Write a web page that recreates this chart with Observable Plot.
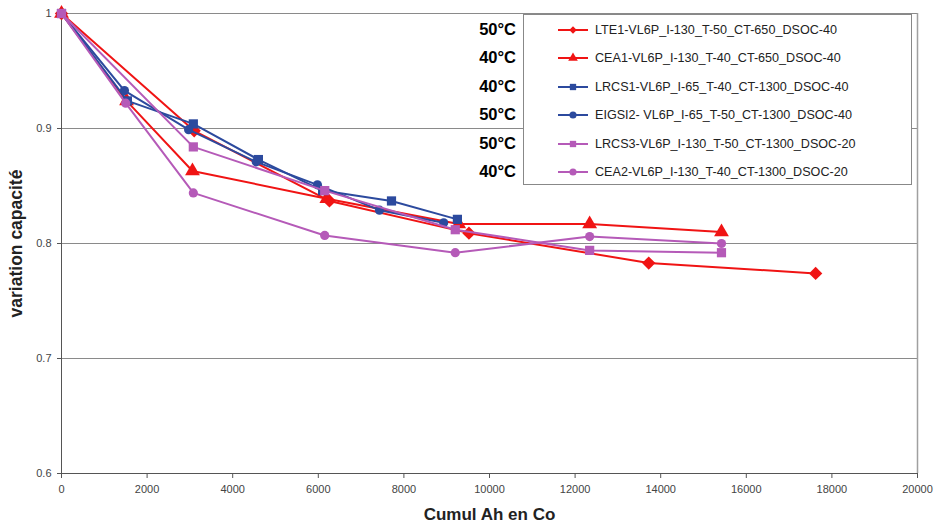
<!DOCTYPE html>
<html>
<head>
<meta charset="utf-8">
<script src="https://cdn.jsdelivr.net/npm/d3@7"></script>
<script src="https://cdn.jsdelivr.net/npm/@observablehq/plot@0.6"></script>
<style>
  html, body { margin: 0; padding: 0; background: #fff; }
  #wrap { position: relative; width: 943px; height: 527px; font-family: "Liberation Sans", Arial, sans-serif; }
  #legend { position: absolute; left: 523px; top: 14px; width: 389px; height: 171px; border: 1px solid #888; background: #fff; box-sizing: border-box; }
  .row { position: absolute; left: 0; height: 20px; display: flex; align-items: center; }
  .row svg { margin-left: 34px; }
  .row span { margin-left: 7px; font-size: 12.6px; color: #222; white-space: nowrap; }
  .temp { position: absolute; width: 70px; text-align: right; left: 446px; font-weight: bold; font-size: 16.5px; line-height: 18px; color: #000; }
</style>
</head>
<body>
<div id="wrap"></div>
<script>
// ---- data ----
const seriesNames = [
  "LTE1-VL6P_I-130_T-50_CT-650_DSOC-40",
  "CEA1-VL6P_I-130_T-40_CT-650_DSOC-40",
  "LRCS1-VL6P_I-65_T-40_CT-1300_DSOC-40",
  "EIGSI2- VL6P_I-65_T-50_CT-1300_DSOC-40",
  "LRCS3-VL6P_I-130_T-50_CT-1300_DSOC-20",
  "CEA2-VL6P_I-130_T-40_CT-1300_DSOC-20"
];
const temperatures = ["50°C", "40°C", "40°C", "50°C", "50°C", "40°C"];
const seriesColors = ["#f01414", "#f01414", "#2c4a9e", "#2c4a9e", "#b55ab8", "#b55ab8"];
const seriesSymbols = ["diamond", "triangle", "square", "circle", "square", "circle"];

const lte1X = [0, 3100, 6260, 9520, 13720, 17620];
const lte1Y = [1.0, 0.898, 0.837, 0.809, 0.783, 0.774];
const cea1X = [0, 1520, 3060, 6200, 9280, 12340, 15420];
const cea1Y = [1.0, 0.924, 0.863, 0.839, 0.817, 0.817, 0.810];
const lrcs1X = [0, 1540, 3080, 4600, 6100, 7710, 9250];
const lrcs1Y = [1.0, 0.924, 0.904, 0.873, 0.846, 0.837, 0.821];
const eigsi2X = [0, 1470, 2970, 4550, 5980, 7430, 8930];
const eigsi2Y = [1.0, 0.933, 0.899, 0.871, 0.851, 0.829, 0.818];
const lrcs3X = [0, 3080, 6150, 9200, 12340, 15420];
const lrcs3Y = [1.0, 0.884, 0.846, 0.812, 0.794, 0.792];
const cea2X = [0, 1500, 3080, 6150, 9200, 12340, 15420];
const cea2Y = [1.0, 0.922, 0.844, 0.807, 0.792, 0.806, 0.800];

const xTicks = [0, 2000, 4000, 6000, 8000, 10000, 12000, 14000, 16000, 18000, 20000];
const yTicks = [0.6, 0.7, 0.8, 0.9, 1];
const xLabel = "Cumul Ah en Co";
const yLabel = "variation capacité";

// ---- build table ----
const xs = [lte1X, cea1X, lrcs1X, eigsi2X, lrcs3X, cea2X];
const ys = [lte1Y, cea1Y, lrcs1Y, eigsi2Y, lrcs3Y, cea2Y];
const rows = [];
seriesNames.forEach((s, i) => xs[i].forEach((x, j) => rows.push({series: s, x, y: ys[i][j]})));

const symbolImpl = {diamond: d3.symbolDiamond2, triangle: d3.symbolTriangle, square: d3.symbolSquare, circle: d3.symbolCircle};
const symbolSize = {diamond: 6, triangle: 5.5, square: 5.2, circle: 4.6};

const seriesMarks = [];
seriesNames.forEach((s, i) => {
  const d = rows.filter(r => r.series === s);
  seriesMarks.push(Plot.line(d, {x: "x", y: "y", stroke: seriesColors[i], strokeWidth: 2}));
  seriesMarks.push(Plot.dot(d, {x: "x", y: "y", fill: seriesColors[i], stroke: "none", symbol: symbolImpl[seriesSymbols[i]], r: symbolSize[seriesSymbols[i]]}));
});

const chart = Plot.plot({
  width: 943, height: 527,
  marginLeft: 61, marginRight: 26, marginTop: 13, marginBottom: 54,
  x: {domain: [0, 20000]},
  y: {domain: [0.6, 1]},
  style: {fontFamily: "'Liberation Sans', Arial, sans-serif", fontSize: "11px", color: "#444", background: "#fff"},
  marks: [
    Plot.gridY(yTicks, {stroke: "#8a8a8a", strokeOpacity: 1, strokeWidth: 1}),
    Plot.ruleX([20000], {stroke: "#a0a0a0", strokeWidth: 1.5}),
    Plot.ruleY([0.6], {stroke: "#555"}),
    Plot.ruleX([0], {stroke: "#555"}),
    Plot.axisX({ticks: xTicks, tickSize: 5, tickPadding: 7, tickFormat: d => String(d), label: null, stroke: "#555"}),
    Plot.axisY({ticks: yTicks, tickSize: 4, tickPadding: 6, tickFormat: d => d === 1 ? "1" : d.toFixed(1), label: null, stroke: "#555"}),
    ...seriesMarks,
    Plot.text([xLabel], {text: d => d, frameAnchor: "bottom", dy: 46, fontWeight: "bold", fontSize: 17, fill: "#222"}),
    Plot.text([yLabel], {text: d => d, frameAnchor: "left", textAnchor: "middle", dx: -45, rotate: -90, fontWeight: "bold", fontSize: 17.5, fill: "#222"})
  ]
});

const wrap = document.getElementById("wrap");
wrap.appendChild(chart);

// ---- legend ----
const legend = document.createElement("div");
legend.id = "legend";
wrap.appendChild(legend);
const rowY = [15, 43, 72, 100, 129, 157];
seriesNames.forEach((s, i) => {
  const row = document.createElement("div");
  row.className = "row";
  row.style.top = (rowY[i] - 10) + "px";
  const sym = d3.symbol().type(symbolImpl[seriesSymbols[i]]).size(seriesSymbols[i] === "diamond" ? 36 : 40)();
  row.innerHTML = `<svg width="30" height="20"><line x1="0" x2="30" y1="10" y2="10" stroke="${seriesColors[i]}" stroke-width="2"/><path d="${sym}" transform="translate(15,10)" fill="${seriesColors[i]}"/></svg><span>${s}</span>`;
  legend.appendChild(row);
  const t = document.createElement("div");
  t.className = "temp";
  t.textContent = temperatures[i];
  t.style.top = (14 + rowY[i] - 9) + "px";
  wrap.appendChild(t);
});
</script>
</body>
</html>
